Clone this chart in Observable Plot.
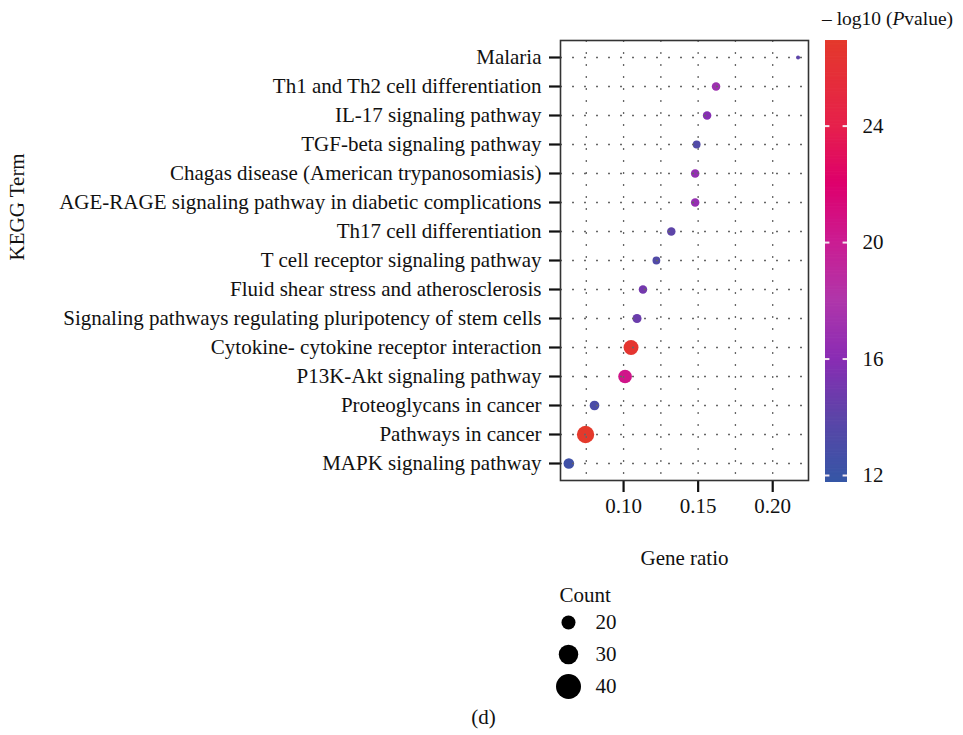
<!DOCTYPE html>
<html>
<head>
<meta charset="utf-8">
<script src="https://cdn.jsdelivr.net/npm/d3@7"></script>
<script src="https://cdn.jsdelivr.net/npm/@observablehq/plot@0.6"></script>
<style>
  html, body { margin: 0; padding: 0; background: #fff; }
  #wrap { position: relative; width: 963px; height: 735px; font-family: "Liberation Serif", "DejaVu Serif", serif; color: #111; }
  #wrap > * { position: absolute; }
  #main [aria-label^="y-axis"] line, #main [aria-label^="y-axis"] path,
  #main [aria-label^="x-axis"] line, #main [aria-label^="x-axis"] path { stroke-width: 2.2px; }
</style>
</head>
<body>
<div id="wrap">
  <div id="main" style="left:0;top:0"></div>
  <div id="cbar" style="left:815px;top:0"></div>
  <div id="cbtitle" style="left:822px;top:8px;font-size:19.5px;line-height:22px;white-space:nowrap">– log10 (<i>P</i>value)</div>
  <div id="sizeleg" style="left:540px;top:580px"></div>
  <div id="caption" style="left:0;width:967px;top:705px;text-align:center;font-size:21px;line-height:24px">(d)</div>
</div>
<script>
// ---- data ----
const terms = [
  "Malaria",
  "Th1 and Th2 cell differentiation",
  "IL-17 signaling pathway",
  "TGF-beta signaling pathway",
  "Chagas disease (American trypanosomiasis)",
  "AGE-RAGE signaling pathway in diabetic complications",
  "Th17 cell differentiation",
  "T cell receptor signaling pathway",
  "Fluid shear stress and atherosclerosis",
  "Signaling pathways regulating pluripotency of stem cells",
  "Cytokine- cytokine receptor interaction",
  "P13K-Akt signaling pathway",
  "Proteoglycans in cancer",
  "Pathways in cancer",
  "MAPK signaling pathway"
];
const geneRatio = [0.217, 0.162, 0.156, 0.149, 0.148, 0.148, 0.132, 0.122, 0.113, 0.109, 0.105, 0.101, 0.0805, 0.0745, 0.0633];
const counts    = [11, 15, 15, 14, 15, 15, 15, 14, 15, 16, 31, 27, 17, 40, 19];
const negLog10P = [14, 17, 15.8, 13.3, 16.5, 16.6, 14, 13.3, 15, 14.6, 26.5, 20.5, 13, 26.9, 12.4];

const xTicks = [0.10, 0.15, 0.20];
const xGrid = [0.075, 0.10, 0.125, 0.15, 0.175, 0.20];
const colorTicks = [12, 16, 20, 24];
const legendCounts = [20, 30, 40];

// ---- scale settings ----
const font = "Liberation Serif, DejaVu Serif, serif";
const colorDomain = [11.76, 14, 16, 18, 20, 22, 24, 26.94];
const colorRange = ["#3556a6", "#5d44a8", "#8a2cb4", "#b036aa", "#cb1c92", "#de006c", "#e6214b", "#e4392b"];
const colorScale = {type: "linear", domain: colorDomain, range: colorRange, interpolate: "rgb"};
const countMin = d3.min(counts) - 0.1;
const countMax = d3.max(counts);

const rows = terms.map((t, i) => ({term: t, ratio: geneRatio[i], count: counts[i], p: negLog10P[i]}));

// ---- main dot plot ----
const main = Plot.plot({
  width: 820,
  height: 600,
  marginLeft: 560,
  marginRight: 12,
  marginTop: 40,
  marginBottom: 120,
  style: {fontFamily: font, fontSize: "21px", color: "#111", background: "transparent"},
  x: {domain: [0.0577, 0.224], ticks: xTicks, tickFormat: ".2f", tickSize: 12, tickPadding: 6, label: null},
  y: {type: "point", domain: terms, padding: 0.56, tickSize: 11, tickPadding: 8, label: null},
  color: colorScale,
  r: {type: "sqrt", domain: [0, countMax - countMin], range: [1.6, 8.65]},
  marks: [
    Plot.dot(rows, {x: "ratio", y: "term", r: d => d.count - countMin, fill: d => d.p, stroke: null}),
    Plot.ruleX(xGrid, {stroke: "#666", strokeWidth: 1.3, strokeDasharray: "2,10"}),
    Plot.ruleY(terms, {stroke: "#666", strokeWidth: 1.3, strokeDasharray: "2,10"}),
    Plot.frame({stroke: "#333", strokeWidth: 1.6}),
    Plot.text(["KEGG Term"], {text: d => d, frameAnchor: "left", dx: -543, rotate: -90, fontSize: 21}),
    Plot.text(["Gene ratio"], {text: d => d, frameAnchor: "bottom", dy: 84, fontSize: 21})
  ]
});
document.getElementById("main").appendChild(main);

// ---- vertical colour bar ----
const rampStep = 0.05;
const ramp = d3.range(colorDomain[0], colorDomain[colorDomain.length - 1], rampStep);
const cbar = Plot.plot({
  width: 148,
  height: 520,
  marginLeft: 10,
  marginRight: 116,
  marginTop: 40,
  marginBottom: 38,
  style: {fontFamily: font, fontSize: "21px", color: "#111", background: "transparent"},
  x: {domain: [0, 1], axis: null},
  y: {domain: [colorDomain[0], colorDomain[colorDomain.length - 1]], axis: "right", ticks: colorTicks, tickSize: 0, tickPadding: 15, label: null},
  color: colorScale,
  marks: [
    Plot.rect(ramp, {x1: 0, x2: 1, y1: d => d, y2: d => Math.min(d + rampStep * 1.5, colorDomain[colorDomain.length - 1]), fill: d => d}),
    Plot.ruleY(colorTicks, {x1: 0, x2: 0.2, stroke: "#f4e8f0", strokeWidth: 2}),
    Plot.ruleY(colorTicks, {x1: 0.8, x2: 1, stroke: "#f4e8f0", strokeWidth: 2})
  ]
});
document.getElementById("cbar").appendChild(cbar);

// ---- size legend ----
const sizeLeg = Plot.plot({
  width: 120,
  height: 130,
  marginLeft: 14,
  marginRight: 78,
  marginTop: 42,
  marginBottom: 24,
  style: {fontFamily: font, fontSize: "21px", color: "#111", background: "transparent"},
  x: {axis: null},
  y: {type: "point", domain: legendCounts, padding: 0, axis: null},
  r: {type: "linear", domain: [20, 40], range: [7, 12.5]},
  marks: [
    Plot.dot(legendCounts, {y: d => d, r: d => d, fill: "black", stroke: null}),
    Plot.text(legendCounts, {y: d => d, text: d => String(d), frameAnchor: "left", dx: 41, textAnchor: "start", fontSize: 21}),
    Plot.text(["Count"], {text: d => d, frameAnchor: "top-left", dx: 5, dy: -35, textAnchor: "start", fontSize: 21})
  ]
});
document.getElementById("sizeleg").appendChild(sizeLeg);
</script>
</body>
</html>
